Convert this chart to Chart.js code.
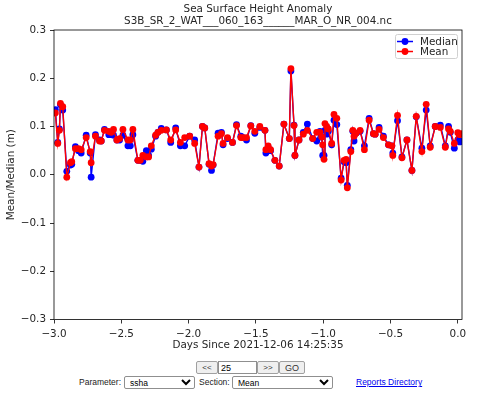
<!DOCTYPE html>
<html>
<head>
<meta charset="utf-8">
<script src="https://cdn.jsdelivr.net/npm/chart.js@4.4.1/dist/chart.umd.min.js"></script>
<style>
  body { margin: 0; background: #fff; }
  #wrap { position: relative; width: 480px; height: 394px; overflow: hidden; font-family: Arial, "Liberation Sans", sans-serif; }
  #chart { position: absolute; left: 0; top: 0; }
  .ctl { position: absolute; box-sizing: border-box; margin: 0; }
  button.ctl { top: 361px; height: 13px; padding: 0; background: #efefef; border: 1px solid #a0a0a0; border-radius: 2px; color: #333; font-size: 8px; font-family: Arial, "Liberation Sans", sans-serif; }
  input.ctl { top: 361px; height: 13px; padding: 0 2px; border: 1px solid #8f8f8f; font-size: 9px; font-family: Arial, "Liberation Sans", sans-serif; }
  span.ctl { top: 377px; font-size: 8.5px; color: #222; }
  select.ctl { top: 376px; height: 12.5px; padding: 0 1px; font-size: 8.5px; border: 1px solid #8f8f8f; border-radius: 2px; background: #fff; font-family: Arial, "Liberation Sans", sans-serif; }
  a.ctl { top: 377px; font-size: 8.5px; color: #0000ee; }
</style>
</head>
<body>
<div id="wrap">
  <canvas id="chart" width="480" height="360"></canvas>
  <button class="ctl" style="left:196px;width:22px;">&lt;&lt;</button>
  <input class="ctl" type="text" value="25" style="left:218px;width:39px;">
  <button class="ctl" style="left:257px;width:22px;">&gt;&gt;</button>
  <button class="ctl" style="left:279px;width:26px;font-size:9px;">GO</button>
  <span class="ctl" style="left:79px;">Parameter:</span>
  <select class="ctl" style="left:124px;width:71px;"><option>ssha</option></select>
  <span class="ctl" style="left:199px;">Section:</span>
  <select class="ctl" style="left:232px;width:101px;"><option>Mean</option></select>
  <a class="ctl" href="#" style="left:356px;">Reports Directory</a>
</div>
<script>
// days relative to 2021-12-06 14:25:35
const days = [-2.990,-2.972,-2.960,-2.952,-2.935,-2.905,-2.878,-2.868,-2.841,-2.818,
  -2.798,-2.761,-2.731,-2.724,-2.692,-2.662,-2.649,-2.625,-2.593,-2.575,
  -2.558,-2.533,-2.513,-2.488,-2.451,-2.433,-2.414,-2.377,-2.359,-2.340,
  -2.314,-2.297,-2.277,-2.245,-2.228,-2.203,-2.165,-2.133,-2.096,-2.061,
  -2.029,-1.992,-1.955,-1.923,-1.897,-1.880,-1.848,-1.830,-1.818,-1.781,
  -1.756,-1.744,-1.711,-1.674,-1.644,-1.612,-1.595,-1.570,-1.538,-1.508,
  -1.471,-1.433,-1.426,-1.409,-1.391,-1.359,-1.327,-1.292,-1.252,-1.240,
  -1.217,-1.210,-1.180,-1.148,-1.118,-1.078,-1.048,-1.024,-1.011,-1.004,
  -0.994,-0.987,-0.974,-0.962,-0.937,-0.920,-0.899,-0.867,-0.845,-0.830,
  -0.821,-0.795,-0.780,-0.771,-0.756,-0.726,-0.694,-0.659,-0.627,-0.614,
  -0.585,-0.553,-0.515,-0.490,-0.483,-0.448,-0.415,-0.378,-0.341,-0.309,
  -0.267,-0.235,-0.205,-0.168,-0.130,-0.093,-0.069,-0.056,-0.026,0.000,
  0.015,0.030];

const median = [0.135,0.067,0.095,0.145,0.134,0.007,0.020,0.022,0.058,0.050,
  0.045,0.082,0.045,-0.005,0.083,0.072,0.070,0.094,0.083,0.083,
  0.082,0.072,0.072,0.082,0.060,0.060,0.083,0.030,0.030,0.028,
  0.050,0.040,0.053,0.080,0.088,0.096,0.093,0.067,0.097,0.060,
  0.060,0.080,0.072,0.016,0.100,0.097,0.022,0.009,0.020,0.086,
  0.088,0.062,0.075,0.067,0.104,0.080,0.077,0.072,0.102,0.086,
  0.098,0.092,0.045,0.057,0.050,0.030,0.018,0.105,0.075,0.215,
  0.103,0.040,0.072,0.088,0.105,0.075,0.070,0.090,0.078,0.040,
  0.040,0.092,0.084,0.090,0.062,0.113,0.104,-0.007,0.027,0.025,
  -0.022,0.052,0.090,0.070,0.086,0.090,0.060,0.117,0.085,0.084,
  0.098,0.080,0.062,0.060,0.045,0.112,0.037,0.072,0.009,0.120,
  0.055,0.134,0.060,0.100,0.103,0.060,0.100,0.088,0.055,0.072,
  0.068,0.070];

const mean = [0.128,0.065,0.092,0.148,0.141,-0.005,0.025,0.027,0.054,0.054,
  0.052,0.077,0.048,0.025,0.080,0.070,0.070,0.092,0.090,0.088,
  0.094,0.072,0.075,0.094,0.072,0.072,0.094,0.030,0.030,0.040,
  0.037,0.037,0.060,0.082,0.088,0.092,0.093,0.072,0.093,0.067,
  0.077,0.080,0.065,0.016,0.100,0.097,0.023,0.018,0.021,0.080,
  0.085,0.065,0.077,0.067,0.102,0.077,0.077,0.077,0.101,0.090,
  0.100,0.092,0.052,0.060,0.052,0.030,0.018,0.105,0.075,0.220,
  0.102,0.040,0.072,0.084,0.092,0.075,0.088,0.088,0.078,0.062,
  0.032,0.106,0.100,0.095,0.065,0.125,0.117,-0.011,0.030,0.032,
  -0.027,0.048,0.092,0.080,0.086,0.092,0.052,0.113,0.085,0.084,
  0.094,0.077,0.062,0.060,0.040,0.123,0.035,0.072,0.009,0.121,
  0.048,0.146,0.057,0.100,0.098,0.057,0.095,0.090,0.065,0.087,
  0.083,0.085];

const xTicks = [-3.0, -2.5, -2.0, -1.5, -1.0, -0.5, 0.0];
const xTickLabels = ['\u22123.0', '\u22122.5', '\u22122.0', '\u22121.5', '\u22121.0', '\u22120.5', '0.0'];
const yTicks = [-0.3, -0.2, -0.1, 0.0, 0.1, 0.2, 0.3];
const yTickLabels = ['\u22120.3', '\u22120.2', '\u22120.1', '0.0', '0.1', '0.2', '0.3'];

const FONT = 'DejaVu Sans';
const fs = 10.4;
const TXT = '#262626';

// full axes frame (matplotlib spines)
const frame = {
  id: 'frame',
  afterDraw(chart) {
    const { ctx, chartArea: a } = chart;
    ctx.save();
    ctx.strokeStyle = '#000';
    ctx.lineWidth = 0.8;
    ctx.strokeRect(a.left, a.top, a.right - a.left, a.bottom - a.top);
    ctx.restore();
  }
};

// legend box in upper right, inside axes
const legendBox = {
  id: 'legendBox',
  afterDraw(chart) {
    const { ctx, chartArea: a } = chart;
    const x = a.right - 67, y = a.top + 4, w = 62, h = 24;
    ctx.save();
    ctx.beginPath();
    ctx.roundRect(x + 0.5, y + 0.5, w, h, 2);
    ctx.fillStyle = 'rgba(255,255,255,0.8)';
    ctx.fill();
    ctx.strokeStyle = '#d0d0d0';
    ctx.lineWidth = 1;
    ctx.stroke();
    const items = [['Median', '#0000ff'], ['Mean', '#ff0000']];
    items.forEach(([label, col], i) => {
      const cy = y + 7.5 + i * 10;
      ctx.strokeStyle = col;
      ctx.lineWidth = 1.5;
      ctx.beginPath();
      ctx.moveTo(x + 2, cy);
      ctx.lineTo(x + 18, cy);
      ctx.stroke();
      ctx.fillStyle = col;
      ctx.beginPath();
      ctx.arc(x + 10, cy, 3.4, 0, Math.PI * 2);
      ctx.fill();
      ctx.fillStyle = TXT;
      ctx.font = fs + 'px "' + FONT + '"';
      ctx.textBaseline = 'middle';
      ctx.fillText(label, x + 25, cy + 0.5);
    });
    ctx.restore();
  }
};

const pts = ys => days.map((d, i) => ({ x: d, y: ys[i] }));

new Chart(document.getElementById('chart'), {
  type: 'line',
  data: {
    datasets: [
      {
        label: 'Median', data: pts(median), order: 1,
        borderColor: '#0000ff', backgroundColor: '#0000ff',
        borderWidth: 1.4, pointRadius: 3.4, pointBorderWidth: 0, tension: 0
      },
      {
        label: 'Mean', data: pts(mean), order: 0,
        borderColor: '#ff0000', backgroundColor: '#ff0000',
        borderWidth: 1.4, pointRadius: 3.4, pointBorderWidth: 0, tension: 0
      }
    ]
  },
  options: {
    responsive: false,
    animation: false,
    devicePixelRatio: 1,
    layout: { padding: { left: 0, right: 18, top: 0, bottom: 0 } },
    plugins: {
      legend: { display: false },
      tooltip: { enabled: false },
      title: {
        display: true,
        fullSize: false,
        text: ['Sea Surface Height Anomaly', 'S3B_SR_2_WAT___060_163______MAR_O_NR_004.nc'],
        color: TXT,
        font: { family: FONT, size: fs, weight: 'normal', lineHeight: 1.154 },
        padding: { top: 3.5, bottom: 2.5 }
      }
    },
    scales: {
      x: {
        type: 'linear',
        min: -3.0, max: 0.031,
        afterBuildTicks: s => { s.ticks = xTicks.map(v => ({ value: v })); },
        afterFit: s => { s.height = 40.5; },
        ticks: {
          autoSkip: false, maxRotation: 0, color: TXT, padding: 4.5,
          font: { family: FONT, size: fs },
          callback: (v) => xTickLabels[xTicks.findIndex(t => Math.abs(t - v) < 1e-9)]
        },
        grid: { drawOnChartArea: false, drawTicks: true, tickLength: 4, color: '#000', lineWidth: 0.8 },
        border: { display: false },
        title: {
          display: true, text: 'Days Since 2021-12-06 14:25:35', color: TXT,
          font: { family: FONT, size: fs, lineHeight: 1.154 }, padding: { top: 0, bottom: 8.5 }
        }
      },
      y: {
        type: 'linear',
        min: -0.3, max: 0.3,
        afterBuildTicks: s => { s.ticks = yTicks.map(v => ({ value: v })); },
        afterFit: s => { s.width = 54; },
        ticks: {
          autoSkip: false, color: TXT, padding: 4,
          font: { family: FONT, size: fs },
          callback: (v) => yTickLabels[yTicks.findIndex(t => Math.abs(t - v) < 1e-9)]
        },
        grid: { drawOnChartArea: false, drawTicks: true, tickLength: 4, color: '#000', lineWidth: 0.8 },
        border: { display: false },
        title: {
          display: true, text: 'Mean/Median (m)', color: TXT,
          font: { family: FONT, size: fs, lineHeight: 1.154 }, padding: { top: 5, bottom: 0 }
        }
      }
    }
  },
  plugins: [frame, legendBox]
});
</script>
</body>
</html>
